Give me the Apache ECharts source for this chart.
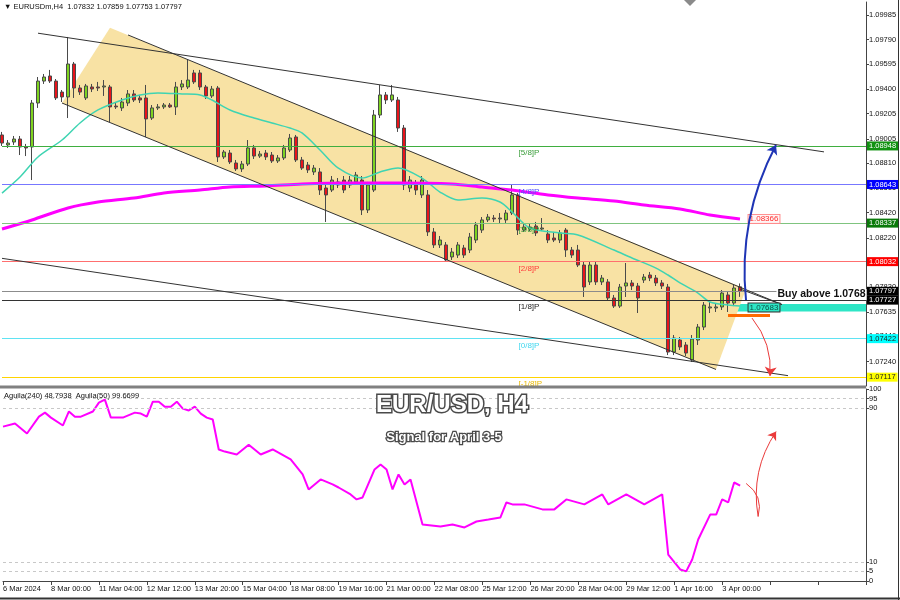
<!DOCTYPE html>
<html><head><meta charset="utf-8">
<script src="https://cdn.jsdelivr.net/npm/echarts@6/dist/echarts.min.js"></script>
<style>html,body{margin:0;padding:0;background:#fff}#c{width:900px;height:600px}</style>
</head><body><div id="c"></div>
<script>
// ---------- DATA ----------
const timeLabels = ['6 Mar 2024','8 Mar 00:00','11 Mar 04:00','12 Mar 12:00','13 Mar 20:00','15 Mar 04:00','18 Mar 08:00','19 Mar 16:00','21 Mar 00:00','22 Mar 08:00','25 Mar 12:00','26 Mar 20:00','28 Mar 04:00','29 Mar 12:00','1 Apr 16:00','3 Apr 00:00'];
const priceTicks = [1.09985,1.09790,1.09595,1.09400,1.09205,1.09005,1.08810,1.08615,1.08420,1.08220,1.08025,1.07830,1.07635,1.07440,1.07240,1.07045];
const oscTicks = [0,5,10,90,95,100];
const oscLevels = [5,10,90,95];
// candles: [open, close, low, high]
const ohlc = [
[1.09035,1.08971,1.08948,1.09059],[1.08956,1.08971,1.08932,1.08995],[1.08979,1.09003,1.08956,1.09027],[1.09003,1.08940,1.08876,1.09027],
[1.08940,1.08932,1.08868,1.08964],[1.08940,1.09288,1.08678,1.09312],[1.09288,1.09462,1.09249,1.09494],[1.09462,1.09494,1.09439,1.09518],
[1.09502,1.09462,1.09447,1.09550],[1.09462,1.09328,1.09312,1.09478],[1.09375,1.09336,1.09296,1.09391],[1.09336,1.09597,1.09169,1.09811],
[1.09597,1.09407,1.09328,1.09613],[1.09407,1.09375,1.09352,1.09431],[1.09328,1.09423,1.09312,1.09439],[1.09415,1.09399,1.09375,1.09439],
[1.09415,1.09407,1.09383,1.09455],[1.09415,1.09423,1.09344,1.09470],[1.09415,1.09257,1.09138,1.09431],[1.09264,1.09257,1.09241,1.09288],
[1.09249,1.09296,1.09225,1.09328],[1.09288,1.09360,1.09264,1.09391],[1.09360,1.09312,1.09296,1.09391],[1.09328,1.09312,1.09288,1.09352],
[1.09328,1.09162,1.09019,1.09431],[1.09169,1.09249,1.09154,1.09272],[1.09249,1.09257,1.09233,1.09280],[1.09257,1.09272,1.09241,1.09288],
[1.09272,1.09257,1.09249,1.09288],[1.09257,1.09415,1.09193,1.09455],[1.09415,1.09439,1.09391,1.09470],[1.09415,1.09470,1.09399,1.09629],
[1.09526,1.09455,1.09439,1.09550],[1.09526,1.09415,1.09391,1.09550],[1.09415,1.09344,1.09320,1.09431],[1.09344,1.09399,1.09328,1.09423],
[1.09407,1.08861,1.08821,1.09423],[1.08861,1.08900,1.08845,1.08916],[1.08892,1.08821,1.08805,1.08916],[1.08813,1.08766,1.08750,1.08837],
[1.08766,1.08805,1.08742,1.08829],[1.08805,1.08932,1.08789,1.08995],[1.08932,1.08868,1.08845,1.08956],[1.08868,1.08884,1.08853,1.08908],
[1.08892,1.08861,1.08837,1.08916],[1.08876,1.08829,1.08813,1.08900],[1.08829,1.08853,1.08813,1.08876],[1.08853,1.08932,1.08837,1.08956],
[1.08916,1.09011,1.08900,1.09043],[1.09019,1.08837,1.08821,1.09035],[1.08837,1.08773,1.08758,1.08861],[1.08797,1.08758,1.08734,1.08821],
[1.08742,1.08773,1.08718,1.08797],[1.08742,1.08599,1.08560,1.08773],[1.08615,1.08560,1.08346,1.08639],[1.08599,1.08678,1.08583,1.08710],
[1.08639,1.08663,1.08615,1.08694],[1.08678,1.08599,1.08575,1.08710],[1.08639,1.08678,1.08615,1.08710],[1.08663,1.08718,1.08639,1.08742],
[1.08678,1.08441,1.08401,1.08710],[1.08441,1.08639,1.08417,1.08663],[1.08599,1.09193,1.08583,1.09233],[1.09193,1.09352,1.09169,1.09431],
[1.09352,1.09312,1.09280,1.09375],[1.09312,1.09352,1.09296,1.09431],[1.09312,1.09090,1.09059,1.09336],[1.09090,1.08639,1.08599,1.09114],
[1.08615,1.08678,1.08583,1.08710],[1.08639,1.08599,1.08560,1.08678],[1.08560,1.08678,1.08536,1.08710],[1.08560,1.08267,1.08235,1.08599],
[1.08267,1.08164,1.08140,1.08298],[1.08164,1.08203,1.08140,1.08235],[1.08164,1.08045,1.08029,1.08187],[1.08069,1.08108,1.08045,1.08140],
[1.08084,1.08164,1.08061,1.08187],[1.08140,1.08084,1.08061,1.08164],[1.08124,1.08227,1.08100,1.08259],[1.08203,1.08322,1.08179,1.08346],
[1.08282,1.08362,1.08259,1.08385],[1.08362,1.08385,1.08346,1.08409],[1.08377,1.08370,1.08346,1.08401],[1.08370,1.08377,1.08338,1.08417],
[1.08362,1.08417,1.08338,1.08441],[1.08417,1.08560,1.08401,1.08639],[1.08560,1.08282,1.08243,1.08575],[1.08282,1.08306,1.08267,1.08330],
[1.08290,1.08306,1.08274,1.08330],[1.08314,1.08259,1.08235,1.08346],[1.08290,1.08298,1.08274,1.08377],[1.08251,1.08203,1.08179,1.08282],
[1.08219,1.08203,1.08187,1.08267],[1.08203,1.08259,1.08179,1.08282],[1.08282,1.08124,1.08069,1.08298],[1.08124,1.08084,1.08061,1.08148],
[1.08124,1.08005,1.07989,1.08164],[1.08005,1.07831,1.07752,1.08029],[1.07871,1.08005,1.07847,1.08029],[1.08005,1.07871,1.07847,1.08029],
[1.07871,1.07902,1.07847,1.07926],[1.07871,1.07744,1.07728,1.07894],[1.07744,1.07680,1.07665,1.07768],[1.07680,1.07831,1.07665,1.07855],
[1.07839,1.07863,1.07752,1.08021],[1.07863,1.07839,1.07807,1.07886],[1.07839,1.07744,1.07625,1.07863],[1.07886,1.07910,1.07863,1.07934],
[1.07926,1.07902,1.07878,1.07950],[1.07902,1.07863,1.07839,1.07926],[1.07863,1.07839,1.07815,1.07886],[1.07831,1.07316,1.07292,1.07855],
[1.07316,1.07427,1.07292,1.07451],[1.07411,1.07356,1.07332,1.07435],[1.07372,1.07308,1.07284,1.07395],[1.07253,1.07419,1.07237,1.07451],
[1.07411,1.07514,1.07372,1.07538],[1.07514,1.07688,1.07490,1.07712],[1.07665,1.07673,1.07625,1.07712],[1.07665,1.07673,1.07633,1.07704],
[1.07673,1.07783,1.07649,1.07807],[1.07768,1.07704,1.07633,1.07791],[1.07704,1.07823,1.07680,1.07847],[1.07832,1.07797,1.07753,1.07859]
];
// moving averages: [bar index, price]
const emaFast = [[0,1.08575],[3,1.08702],[6,1.08861],[10,1.08995],[13,1.09130],[16,1.09233],[20,1.09312],[23,1.09352],[26,1.09368],[30,1.09360],[33,1.09352],[35,1.09312],[38,1.09233],[42,1.09169],[45,1.09130],[48,1.09090],[50,1.09051],[53,1.08916],[56,1.08774],[60,1.08694],[63,1.08742],[66,1.08774],[70,1.08694],[73,1.08583],[76,1.08520],[80,1.08536],[83,1.08504],[85,1.08425],[88,1.08298],[93,1.08259],[96,1.08243],[102,1.08124],[105,1.08061],[109,1.07981],[111,1.07926],[113,1.07863],[116,1.07783],[118,1.07712],[121,1.07688],[123,1.07680]];
const ma200 = [[0,1.08290],[5,1.08362],[11,1.08457],[16,1.08504],[22,1.08536],[27,1.08575],[33,1.08599],[38,1.08623],[44,1.08631],[50,1.08647],[58,1.08655],[66,1.08655],[75,1.08647],[80,1.08623],[85,1.08599],[91,1.08560],[96,1.08536],[102,1.08512],[107,1.08480],[113,1.08449],[118,1.08401],[123,1.08370]];
// oscillator Aguila: [bar index, value]
const aguila = [[0,80.4],[2,82],[4,76.8],[6,85.6],[7,87.7],[8,85.1],[10,81],[11,88.3],[12,85.6],[13,85.6],[15,88.3],[16,92.9],[17,94.5],[18,85.1],[20,85.1],[22,87.7],[23,87.2],[24,85.6],[25,93.4],[26,93.4],[27,90.8],[28,90.8],[29,93.4],[30,89.8],[31,88.8],[32,90.8],[33,87.2],[34,85.1],[35,84.1],[36,68.5],[37,67.4],[39,65.9],[41,71],[43,65.9],[45,68.5],[48,63.3],[50,55.5],[51,47.7],[53,52.9],[55,50.3],[56,48.7],[58,45.1],[59,42.5],[60,43.5],[62,58.1],[63,60.7],[64,58.1],[65,47.7],[66,55.5],[67,50.3],[68,52.9],[70,29.4],[73,28.4],[75,29.4],[77,27.9],[79,31],[81,32],[83,33.1],[84,40.9],[85,39.9],[87,39.9],[90,37.3],[92,37.3],[94,42.5],[97,39.9],[100,45.1],[101,39.9],[104,45.1],[107,39.9],[110,45.1],[111,13.8],[113,6],[114,5],[115,11.2],[116,21.6],[118,34.6],[119,34.6],[120,42.5],[121,40.9],[122,51.3],[123,49.7]];
// Murrey math levels
const murreyNames = ['[5/8]P','[4/8]P','[3/8]P','[2/8]P','[1/8]P','[0/8]P','[-1/8]P'];
const murreyValues = [1.08948,1.08643,1.08337,1.08032,1.07727,1.07422,1.07117];
const lastPrice = 1.07797;
const entryLevel = 1.07683;
const entryBand = [1.07696,1.07637];
const stopLevel = 1.07609;
const ma200Last = 1.08366;
const buyText = 'Buy above 1.0768';
// trend lines: [[bar,price],[bar,price]]
const trendLines = [
  [[6,1.09841],[137,1.08901]],
  [[0,1.08058],[131,1.07129]],
  [[21,1.09827],[130,1.07692]],
  [[10,1.09288],[119,1.07178]],
  [[123,1.07815],[130,1.07692]]
];
const channelFill = [[18,1.09885],[124,1.07815],[119,1.07178],[10,1.09288]];
const upArrow = [[124,1.07728],[129.2,1.08956]];
const downArrow = [[125.3,1.07585],[128,1.07126]];
const oscArrowA = [[124.3,50.8],[126.3,33.6]];
const oscArrowB = [[126.3,33.6],[129,77.8]];

// ---------- STYLE ----------
const F = 'Liberation Sans';
const N = 145;
const categories = Array.from({length:N},(_,i)=>String(i));
const murreyLine = ['#3fae3f','#7777ff','#7fc47f','#ff6f6f','#333333','#5fe3f3','#ffd400'];
const murreyBg   = ['#129212','#0000ff','#0a7a0a','#ff0000','#000000','#00ffff','#ffff00'];
const murreyFg   = ['#fff','#fff','#fff','#fff','#fff','#222','#222'];
const murreyTxt  = ['#3a9d3a','#4f4fff','#3a9d3a','#ff3b3b','#222','#3fd7ef','#e8b800'];

const chart = echarts.init(document.getElementById('c'));

const levelLines = murreyValues.map((v,i)=>({
  yAxis:v, lineStyle:{color:murreyLine[i],width:1,type:'solid'},
  label:{show:true,position:'end',distance:1,formatter:v.toFixed(5),backgroundColor:murreyBg[i],color:murreyFg[i],padding:[1,2,0,2],fontSize:7.5,fontFamily:F}
}));
levelLines.push({yAxis:lastPrice,lineStyle:{color:'#8c8c8c',width:1,type:'solid'},
  label:{show:true,position:'end',distance:1,formatter:lastPrice.toFixed(5),backgroundColor:'#000',color:'#fff',padding:[1,2,0,2],fontSize:7.5,fontFamily:F}});
trendLines.forEach(t=>levelLines.push([{coord:t[0],lineStyle:{color:'#333',width:1,type:'solid'},label:{show:false}},{coord:t[1]}]));
levelLines.push([{coord:[121,stopLevel],lineStyle:{color:'#ff6a00',width:3,type:'solid'},label:{show:false}},{coord:[128,stopLevel]}]);

const tp = {symbol:'rect',symbolSize:1,itemStyle:{color:'rgba(0,0,0,0)'}};
const marks = murreyNames.map((n,i)=>Object.assign({coord:[86,murreyValues[i]],
  label:{show:true,position:'right',distance:0,offset:[0,7],formatter:n,color:murreyTxt[i],fontSize:8,fontFamily:F}},tp));
marks.push(Object.assign({coord:[127,1.07669],label:{show:true,position:'inside',formatter:entryLevel.toFixed(5),color:'#0b4f45',fontSize:8,fontFamily:F,borderColor:'#333',borderWidth:1,padding:[0,1,0,1],backgroundColor:'#2ee6c6'}},tp));
marks.push(Object.assign({coord:[127,1.08370],label:{show:true,position:'inside',formatter:ma200Last.toFixed(5),color:'#ff2a2a',fontSize:8,fontFamily:F,borderColor:'#ff8c8c',borderWidth:1,padding:[0,1,0,1],backgroundColor:'#fff4f4'}},tp));
marks.push(Object.assign({coord:[129.2,1.07772],label:{show:true,position:'right',distance:0,formatter:buyText,color:'#111',fontSize:10.5,fontWeight:'bold',fontFamily:F,backgroundColor:'#fff',padding:[0,1,0,1]}},tp));

const option = {
  animation:false,
  backgroundColor:'#fff',
  grid:[
    {left:2,top:2,width:864,height:384,show:false},
    {left:2,top:389,width:864,height:192,show:false}
  ],
  xAxis:[
    {type:'category',gridIndex:0,data:categories,boundaryGap:false,axisLine:{show:false},axisTick:{show:false},axisLabel:{show:false},splitLine:{show:false}},
    {type:'category',gridIndex:1,data:categories,boundaryGap:false,
     axisLine:{show:true,onZero:false,lineStyle:{color:'#444'}},
     axisTick:{show:true,length:4,interval:(i)=>i%8===0,lineStyle:{color:'#444'}},
     axisLabel:{show:true,interval:(i)=>i%8===0,formatter:(v,i)=>timeLabels[Math.round(i/8)]||'',align:'left',fontSize:7.5,fontFamily:F,color:'#111',margin:4},
     splitLine:{show:false}}
  ],
  yAxis:[
    {type:'value',gridIndex:0,position:'right',min:1.07047,max:1.10088,scale:true,
     axisLine:{show:true,lineStyle:{color:'#444'}},
     axisTick:{show:true,length:3,customValues:priceTicks,lineStyle:{color:'#444'}},
     axisLabel:{show:true,customValues:priceTicks,formatter:(v)=>v.toFixed(5),fontSize:7.5,fontFamily:F,color:'#111',margin:3},
     splitLine:{show:false}},
    {type:'value',gridIndex:1,position:'right',min:0,max:100,
     axisLine:{show:true,lineStyle:{color:'#444'}},
     axisTick:{show:true,length:3,customValues:oscTicks,lineStyle:{color:'#444'}},
     axisLabel:{show:true,customValues:oscTicks,fontSize:7.5,fontFamily:F,color:'#111',margin:3},
     splitLine:{show:false}}
  ],
  series:[
    {type:'custom',name:'channel',xAxisIndex:0,yAxisIndex:0,z:1,silent:true,data:[[0,1.08]],
     renderItem:(p,api)=>({type:'polygon',shape:{points:channelFill.map(c=>api.coord(c))},style:{fill:'#f8e2a4'}})},
    {type:'line',name:'levels',xAxisIndex:0,yAxisIndex:0,data:[],z:2,clip:false,silent:true,
     markLine:{symbol:['none','none'],precision:6,silent:true,animation:false,data:levelLines},
     markArea:{silent:true,data:[[{coord:[117,entryBand[0]],itemStyle:{color:'#2ee6c6'}},{coord:[144,entryBand[1]]}]]}},
    {type:'candlestick',name:'EURUSD',xAxisIndex:0,yAxisIndex:0,z:3,data:ohlc,barWidth:4,
     itemStyle:{color:'#7ed321',color0:'#e8141b',borderColor:'#4a4a4a',borderColor0:'#4a4a4a',borderWidth:1}},
    {type:'line',name:'EMA',xAxisIndex:0,yAxisIndex:0,z:4,data:emaFast,smooth:0.3,showSymbol:false,lineStyle:{color:'#3fd4b2',width:1.5}},
    {type:'line',name:'MA200',xAxisIndex:0,yAxisIndex:0,z:4,data:ma200,smooth:0.3,showSymbol:false,lineStyle:{color:'#ff00ff',width:3}},
    {type:'line',name:'labels',xAxisIndex:0,yAxisIndex:0,data:[],z:7,clip:false,silent:true,
     markPoint:{silent:true,animation:false,data:marks}},
    {type:'lines',coordinateSystem:'cartesian2d',xAxisIndex:0,yAxisIndex:0,z:6,symbol:['none','arrow'],symbolSize:9,silent:true,
     data:[{coords:upArrow,lineStyle:{color:'#1f35b5',width:2,opacity:1,curveness:0.15}},{coords:downArrow,lineStyle:{color:'#ea3a3a',width:1,opacity:1,curveness:0.2}}]},
    {type:'line',name:'Aguila',xAxisIndex:1,yAxisIndex:1,z:4,data:aguila,showSymbol:false,lineStyle:{color:'#ff00ff',width:2},
     markLine:{symbol:['none','none'],silent:true,label:{show:false},lineStyle:{color:'#c8c8c8',type:[3,3],width:1},data:oscLevels.map(v=>({yAxis:v}))}},
    {type:'lines',coordinateSystem:'cartesian2d',xAxisIndex:1,yAxisIndex:1,z:6,symbol:['none','none'],silent:true,
     data:[{coords:oscArrowA,lineStyle:{color:'#ea3a3a',width:1,opacity:1,curveness:0.35}}]},
    {type:'lines',coordinateSystem:'cartesian2d',xAxisIndex:1,yAxisIndex:1,z:6,symbol:['none','arrow'],symbolSize:8,silent:true,
     data:[{coords:oscArrowB,lineStyle:{color:'#ea3a3a',width:1,opacity:1,curveness:0.2}}]}
  ],
  graphic:[
    {type:'rect',shape:{x:0,y:385.5,width:866,height:3},style:{fill:'#808080'},silent:true,z:10},
    {type:'line',shape:{x1:898.5,y1:0,x2:898.5,y2:600},style:{stroke:'#333',lineWidth:1},silent:true},
    {type:'line',shape:{x1:0,y1:598.5,x2:900,y2:598.5},style:{stroke:'#333',lineWidth:2},silent:true},
    {type:'polygon',shape:{points:[[684,0],[696,0],[690,6]]},style:{fill:'#8a8a8a'},silent:true},
    {type:'text',left:4,top:3,style:{text:'\u25BC EURUSDm,H4  1.07832 1.07859 1.07753 1.07797',font:'7.5px "'+F+'"',fill:'#111'},silent:true,z:10},
    {type:'text',left:4,top:392,style:{text:'Aguila(240) 48.7938  Aguila(50) 99.6699',font:'7.5px "'+F+'"',fill:'#111'},silent:true,z:10},
    {type:'text',x:452,y:405,style:{text:'EUR/USD, H4',font:'bold 24px "'+F+'"',fill:'#fff',stroke:'#4a4a4a',lineWidth:3,align:'center',verticalAlign:'middle',shadowColor:'rgba(0,0,0,0.55)',shadowBlur:3,shadowOffsetX:2,shadowOffsetY:2},silent:true,z:10},
    {type:'text',x:444,y:437,style:{text:'Signal for April 3-5',font:'bold 13px "'+F+'"',fill:'#fff',stroke:'#4a4a4a',lineWidth:2.5,align:'center',verticalAlign:'middle',shadowColor:'rgba(0,0,0,0.5)',shadowBlur:2,shadowOffsetX:1,shadowOffsetY:1},silent:true,z:10}
  ]
};
chart.setOption(option);
</script></body></html>
